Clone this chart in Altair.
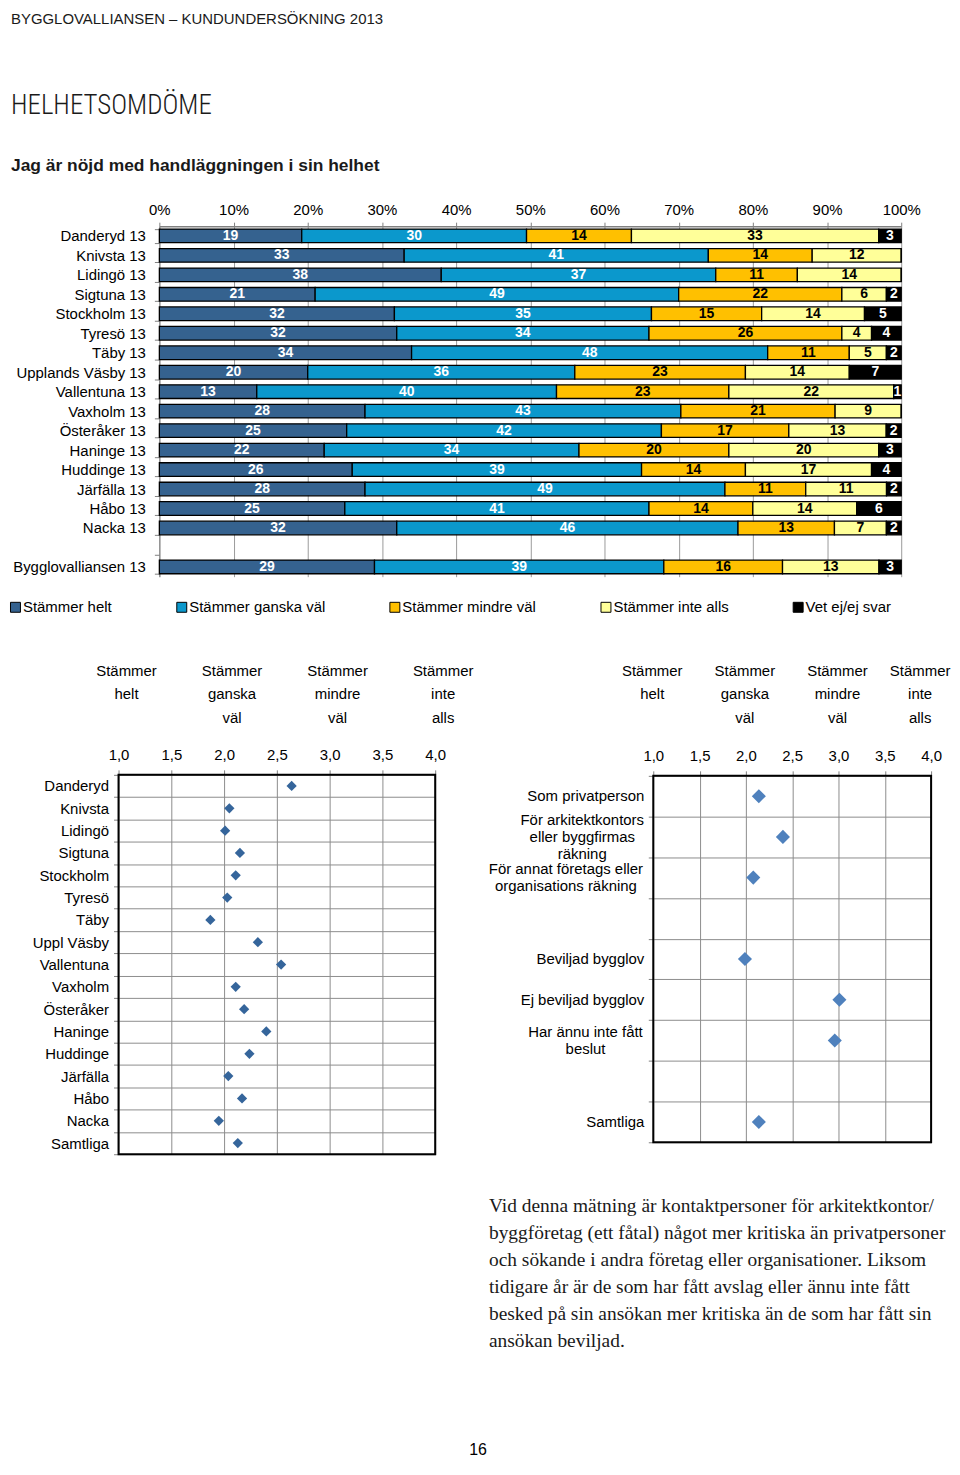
import altair as alt
import pandas as pd

# ------------------------------------------------------------------ texts
header_text = "BYGGLOVALLIANSEN – KUNDUNDERSÖKNING 2013"
section_title = "HELHETSOMDÖME"
question_text = "Jag är nöjd med handläggningen i sin helhet"

# ------------------------------------------------------------------ stacked bars
bar_rows = ["Danderyd 13", "Knivsta 13", "Lidingö 13", "Sigtuna 13", "Stockholm 13",
            "Tyresö 13", "Täby 13", "Upplands Väsby 13", "Vallentuna 13", "Vaxholm 13",
            "Österåker 13", "Haninge 13", "Huddinge 13", "Järfälla 13", "Håbo 13",
            "Nacka 13", "Bygglovalliansen 13"]
categories = ["Stämmer helt", "Stämmer ganska väl", "Stämmer mindre väl",
              "Stämmer inte alls", "Vet ej/ej svar"]
helt = [19, 33, 38, 21, 32, 32, 34, 20, 13, 28, 25, 22, 26, 28, 25, 32, 29]
ganska = [30, 41, 37, 49, 35, 34, 48, 36, 40, 43, 42, 34, 39, 49, 41, 46, 39]
mindre = [14, 14, 11, 22, 15, 26, 11, 23, 23, 21, 17, 20, 14, 11, 14, 13, 16]
inte = [33, 12, 14, 6, 14, 4, 5, 14, 22, 9, 13, 20, 17, 11, 14, 7, 13]
vetej = [3, 0, 0, 2, 5, 4, 2, 7, 1, 0, 2, 3, 4, 2, 6, 2, 3]
cat_colors = ["#35628f", "#0b98cc", "#ffc000", "#ffff99", "#000000"]
pct_ticks = [0, 0.1, 0.2, 0.3, 0.4, 0.5, 0.6, 0.7, 0.8, 0.9, 1.0]

# ------------------------------------------------------------------ dot plots
dot_left_names = ["Danderyd", "Knivsta", "Lidingö", "Sigtuna", "Stockholm", "Tyresö",
                  "Täby", "Uppl Väsby", "Vallentuna", "Vaxholm", "Österåker", "Haninge",
                  "Huddinge", "Järfälla", "Håbo", "Nacka", "Samtliga"]
dot_left_values = [2.64, 2.05, 2.01, 2.15, 2.11, 2.03, 1.87, 2.32, 2.54, 2.11, 2.19,
                   2.40, 2.24, 2.04, 2.17, 1.95, 2.13]
dot_right_names = ["Som privatperson", "För arkitektkontors|eller byggfirmas|räkning",
                   "För annat företags eller|organisations räkning", "Beviljad bygglov",
                   "Ej beviljad bygglov", "Har ännu inte fått|beslut", "Samtliga"]
dot_right_values = [2.14, 2.40, 2.08, 1.99, 3.01, 2.96, 2.14]
dot_right_domain = dot_right_names[:3] + [" "] + dot_right_names[3:6] + ["  "] + dot_right_names[6:]
dot_ticks = [1.0, 1.5, 2.0, 2.5, 3.0, 3.5, 4.0]
scale_levels = [1, 2, 3, 4]
scale_labels = ["Stämmer\nhelt", "Stämmer\nganska\nväl", "Stämmer\nmindre\nväl", "Stämmer\ninte\nalls"]

# ------------------------------------------------------------------ paragraph
paragraph_lines = [
    "Vid denna mätning är kontaktpersoner för arkitektkontor/",
    "byggföretag (ett fåtal) något mer kritiska än privatpersoner",
    "och sökande i andra företag eller organisationer. Liksom",
    "tidigare år är de som har fått avslag eller ännu inte fått",
    "besked på sin ansökan mer kritiska än de som har fått sin",
    "ansökan beviljad.",
]
page_number = "16"

W = 944


def spacer(h):
    return alt.Chart(pd.DataFrame({"s": [0]})).mark_point(opacity=0, size=1).encode(
        x=alt.value(20), y=alt.value(5)).properties(width=W, height=h)


def text_chart(t):
    return alt.Chart(pd.DataFrame({"t": [t]}))


# ------------------------------------------------------------------ header
hdr1 = text_chart(header_text).mark_text(align="left", baseline="alphabetic", fontSize=15,
                                         color="#1a1a1a").encode(
    x=alt.value(0), y=alt.value(12), text="t:N")
hdr2 = text_chart(section_title).mark_text(align="left", baseline="alphabetic", fontSize=27,
                                           font="Roboto Condensed, Roboto", fontWeight=300,
                                           color="#1a1a1a").encode(
    x=alt.value(0), y=alt.value(102), text="t:N")
hdr3 = text_chart(question_text).mark_text(align="left", baseline="alphabetic", fontSize=17.5,
                                           fontWeight="bold", color="#1a1a1a").encode(
    x=alt.value(0), y=alt.value(160), text="t:N")
header = alt.layer(hdr1, hdr2, hdr3).properties(width=W, height=215)

# ------------------------------------------------------------------ bar chart
series = [helt, ganska, mindre, inte, vetej]
recs = []
for i, r in enumerate(bar_rows):
    for j, s in enumerate(series):
        recs.append({"row": r, "cat": categories[j], "order": j, "value": s[i]})
df_bar = pd.DataFrame(recs)
bar_domain = bar_rows[:-1] + [" "] + bar_rows[-1:]

x_bar_scale = alt.Scale(domain=[0, 1], range=[149, 894], nice=False, zero=False)
x_bar_axis = alt.Axis(orient="top", values=pct_ticks, format=".0%", labelFontSize=15,
                      labelColor="black", tickSize=4, labelPadding=4.5, tickColor="#808080",
                      domainColor="#808080", domainWidth=1.5, grid=True, gridColor="#9a9a9a",
                      labelFlush=False, title=None)
y_bar_scale = alt.Scale(domain=bar_domain, paddingInner=0.3, paddingOuter=0.15)
y_bar_axis = alt.Axis(offset=-149, labelFontSize=15, labelColor="black", tickBand="extent",
                      tickSize=5, labelPadding=9, tickColor="#808080", domainColor="#808080",
                      grid=False, labelLimit=300, title=None)

stack_args = dict(stack="value", as_=["x0", "x1"], groupby=["row"], offset="normalize",
                  sort=[alt.SortField("order", "ascending")])

bars = alt.Chart(df_bar).transform_stack(**stack_args).mark_bar(
    stroke="black", strokeWidth=1.3).encode(
    x=alt.X("x0:Q", scale=x_bar_scale, axis=x_bar_axis),
    x2="x1:Q",
    y=alt.Y("row:N", scale=y_bar_scale, axis=y_bar_axis),
    color=alt.Color("cat:N", scale=alt.Scale(domain=categories, range=cat_colors),
                    legend=alt.Legend(title=None, orient="none", legendX=-3, legendY=590,
                                      direction="horizontal", symbolType="square",
                                      symbolSize=100, symbolStrokeColor="black",
                                      symbolStrokeWidth=1, symbolOpacity=1, labelFontSize=15,
                                      labelColor="black", columnPadding=62, labelOffset=0,
                                      padding=0, labelLimit=300)),
)
bar_labels = alt.Chart(df_bar).transform_stack(**stack_args).transform_filter(
    "datum.value > 0").transform_calculate(mid="(datum.x0 + datum.x1) / 2").mark_text(
    fontWeight="bold", fontSize=14).encode(
    x=alt.X("mid:Q", scale=x_bar_scale, axis=x_bar_axis),
    y=alt.Y("row:N", scale=y_bar_scale, axis=y_bar_axis),
    text="value:Q",
    color=alt.condition("datum.order == 2 || datum.order == 3", alt.value("black"),
                        alt.value("white")),
)
bar_chart = alt.layer(bars, bar_labels).properties(width=W, height=352)

# ------------------------------------------------------------------ dot plots
dot_x_axis = alt.Axis(orient="top", values=dot_ticks,
                      labelExpr="replace(format(datum.value, '.1f'), '.', ',')",
                      labelFontSize=15, labelColor="black", tickSize=5, labelPadding=7.5,
                      tickColor="#808080", domain=False, grid=True, gridColor="#8c8c8c",
                      labelFlush=False, title=None)
df_hdr = pd.DataFrame({"lvl": scale_levels, "txt": scale_labels})

LINE_H = 17
MAXLEN = ("max(length(split(datum.name, '|')[0]), length(split(datum.name, '|')[1] || ''), "
          "length(split(datum.name, '|')[2] || ''))")


def dot_plot(names, values, domain, x_range, plot_h, color, size, y_axis, hdr_layers,
             label_x=None):
    xs = alt.Scale(domain=[1, 4], range=x_range, nice=False, zero=False)
    ys = alt.Scale(type="band", domain=domain, range=[0, plot_h], paddingInner=0,
                   paddingOuter=0)
    df = pd.DataFrame({"name": names, "v": values})
    layers = []
    for flt, dx, yv in hdr_layers:
        layers.append(alt.Chart(df_hdr).transform_filter(flt).mark_text(
            lineBreak="\n", lineHeight=23.5, baseline="top", align="center", fontSize=15,
            color="black", dx=dx).encode(
            x=alt.X("lvl:Q", scale=xs, axis=dot_x_axis), y=alt.value(yv), text="txt:N"))
    if label_x is not None:
        # category labels drawn as text; multi-line blocks centred on their row
        single = alt.Chart(df).transform_calculate(
            nl="length(split(datum.name, '|'))").transform_filter("datum.nl == 1").mark_text(
            align="right", baseline="middle", fontSize=15, color="black").encode(
            x=alt.value(label_x), y=alt.Y("name:N", scale=ys, axis=y_axis), text="name:N")
        layers.append(single)
        for nl in (2, 3):
            layers.append(alt.Chart(df).transform_calculate(
                nl="length(split(datum.name, '|'))", ml=MAXLEN,
                xo="-datum.ml * 3.28").transform_filter("datum.nl == %d" % nl).mark_text(
                align="center", baseline="middle", fontSize=15, color="black",
                lineBreak="|", lineHeight=LINE_H, dy=-(nl - 1) * LINE_H / 2).encode(
                x=alt.value(label_x), xOffset=alt.XOffset("xo:Q", scale=None),
                y=alt.Y("name:N", scale=ys, axis=y_axis), text="name:N"))
    pts = alt.Chart(df).mark_point(shape="diamond", filled=True, size=size, color=color,
                                   opacity=1).encode(
        x=alt.X("v:Q", scale=xs, axis=dot_x_axis),
        y=alt.Y("name:N", scale=ys, axis=y_axis),
    )
    frame = alt.Chart(pd.DataFrame({"f": [0]})).mark_rect(
        fill="transparent", stroke="black", strokeWidth=2).encode(
        x=alt.XDatum(1, scale=xs, axis=dot_x_axis), x2=alt.X2Datum(4),
        y=alt.value(0), y2=alt.value(plot_h))
    layers += [pts, frame]
    return alt.layer(*layers)


left_y_axis = alt.Axis(offset=-108, labelFontSize=15, labelColor="black", tickBand="extent",
                       tickSize=5, labelPadding=5, tickColor="#808080", domain=False,
                       grid=True, gridColor="#8c8c8c", labelLimit=300, title=None)
right_y_axis = alt.Axis(offset=-645, labels=False, tickBand="extent", tickSize=5,
                        tickColor="#808080", domain=False, grid=True, gridColor="#8c8c8c",
                        title=None)

left_dot = dot_plot(dot_left_names, dot_left_values, dot_left_names, [108, 426], 381,
                    "#35659b", 106, left_y_axis,
                    [("datum.lvl > 0", 8, -111.5)]).properties(width=W, height=1)
right_dot = dot_plot(dot_right_names, dot_right_values, dot_right_domain, [645, 924], 368,
                     "#4f81bd", 200, right_y_axis,
                     [("datum.lvl < 4", -1, -112.5), ("datum.lvl == 4", -11, -112.5)],
                     label_x=636).properties(width=W, height=368)

# ------------------------------------------------------------------ paragraph + page number
df_para = pd.DataFrame({"i": list(range(len(paragraph_lines))), "line": paragraph_lines})
para = alt.Chart(df_para).mark_text(align="left", baseline="middle", font="Liberation Serif",
                                    fontSize=19.5, color="#1a1a1a").encode(
    x=alt.value(480),
    y=alt.Y("i:O", axis=None, scale=alt.Scale(type="point", padding=0.5)),
    text="line:N",
).properties(width=W, height=162)

pg = text_chart(page_number).mark_text(align="center", baseline="middle", fontSize=16,
                                       color="black").encode(
    x=alt.value(469), y=alt.value(10), text="t:N").properties(width=W, height=20)

chart = alt.vconcat(
    header, bar_chart, spacer(199), left_dot, right_dot, spacer(51), para, spacer(86), pg,
    spacing=0, bounds="flush",
).properties(padding=0).configure(font="Liberation Sans").configure_view(stroke="transparent")

chart.save("out.html", embed_options={"renderer": "svg", "actions": False})
